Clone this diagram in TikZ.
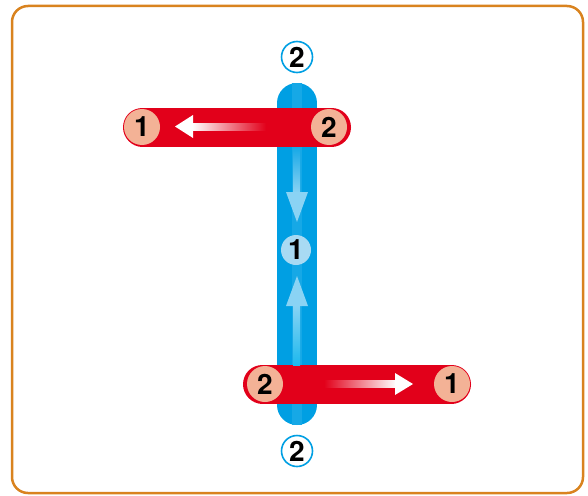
\documentclass[tikz,border=0pt]{standalone}
\usepackage{fontspec}
\setsansfont{TeX Gyre Heros}
\usetikzlibrary{positioning}
\definecolor{framecol}{HTML}{D9831F}
\definecolor{barred}{HTML}{E2001A}
\definecolor{barblue}{HTML}{009FE3}
\definecolor{stripeblue}{HTML}{16A8E6}
\definecolor{lightblue}{HTML}{8AD3F4}
\definecolor{brightblue}{HTML}{1CB9EE}
\definecolor{dotblue}{HTML}{A8DAF3}
\definecolor{salmon}{HTML}{F3B296}
\tikzstyle{num} = [circle, inner sep=0pt, text centered, font=\sffamily\bfseries\fontsize{28pt}{28pt}\selectfont]
\tikzstyle{endpt} = [num, minimum size=36, fill=salmon]
\tikzstyle{midpt} = [num, minimum size=30, fill=dotblue]
\tikzstyle{outer} = [num, minimum size=31, draw=barblue, line width=1.6, fill=white]
\tikzstyle{redbar} = [barred, line width=39, line cap=round]
\tikzstyle{bluebar} = [barblue, line width=40, line cap=round]

\begin{document}
\begin{tikzpicture}[x=1pt, y=-1pt]
\useasboundingbox (0,0) rectangle (588,495);
\draw [framecol, line width=2.5, rounded corners=16] (12,6) rectangle (583,493);
% blue bar
\draw [bluebar] (297,103) -- (297,405);
\fill [stripeblue] (292,83) rectangle (302,425);
\node (b_top) [outer] at (297,57) {2};
\node (b_mid) [midpt] at (296,250) {1};
\node (b_bot) [outer] at (297,451) {2};
% red bars
\draw [redbar] (142.5,127) -- (331.5,127);
\draw [redbar] (262.5,384) -- (451.5,384);
\node (r1_left) [endpt] at (142,127) {1};
\node (r1_right) [endpt] at (329,127) {2};
\node (r2_left) [endpt] at (265,384) {2};
\node (r2_right) [endpt] at (452,384) {1};
% arrows
\shade [left color=white, right color=barred] (192,123.5) rectangle (266,130.5);
\fill [white] (175,126.5) -- (193,115) -- (193,138) -- cycle;
\shade [left color=barred, right color=white] (324,380.5) rectangle (396,387.5);
\fill [white] (413,384) -- (395,373) -- (395,395) -- cycle;
\shade [top color=stripeblue, bottom color=lightblue] (293,147) rectangle (300,193);
\fill [lightblue] (286,192) -- (308,192) -- (297,222) -- cycle;
\shade [top color=lightblue, bottom color=brightblue] (293,305) rectangle (300,365);
\fill [lightblue] (286,306) -- (308,306) -- (297,276) -- cycle;
\end{tikzpicture}
\end{document}
